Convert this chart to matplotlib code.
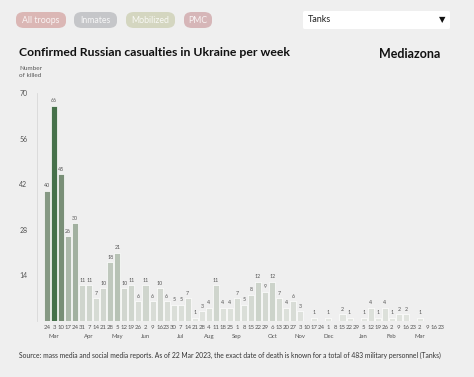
import matplotlib
matplotlib.use("Agg")
import matplotlib.pyplot as plt
import numpy as np
from matplotlib.patches import FancyBboxPatch
from matplotlib.colors import LinearSegmentedColormap

# === Data ===
days = [24, 3, 10, 17, 24, 31, 7, 14, 21, 28, 5, 12, 19, 26, 2, 9, 16, 23, 30,
        7, 14, 21, 28, 4, 11, 18, 25, 1, 8, 15, 22, 29, 6, 13, 20, 27, 3, 10,
        17, 24, 1, 8, 15, 22, 29, 5, 12, 19, 26, 2, 9, 16, 23, 2, 9, 16, 23]
killed = [40, 66, 45, 26, 30, 11, 11, 7, 10, 18, 21, 10, 11, 6, 11, 6, 10, 6, 5,
          5, 7, 1, 3, 4, 11, 4, 4, 7, 5, 8, 12, 9, 12, 7, 4, 6, 3, 0,
          1, 0, 1, 0, 2, 1, 0, 1, 4, 1, 4, 1, 2, 2, 0, 1, 0, 0, 0]
# month name placed under the bar index where the month starts
month_pos = [1, 6, 10, 14, 19, 23, 27, 32, 36, 40, 45, 49, 53]
month_names = ["Mar", "Apr", "May", "Jun", "Jul", "Aug", "Sep", "Oct", "Nov",
               "Dec", "Jan", "Feb", "Mar"]
yticks = [14, 28, 42, 56, 70]

W, H = 474, 377
BG = "#efefef"
plt.rcParams['font.family'] = ['Lato', 'DejaVu Sans']

fig = plt.figure(figsize=(W / 100, H / 100), dpi=100, facecolor=BG)


def fx(px):
    return px / W


def fy(py):
    return 1 - py / H


# --- filter buttons ---
buttons = [("All troops", 16, 66, "#dbb7b5"), ("Inmates", 74, 117, "#c5c6c9"),
           ("Mobilized", 126, 175, "#d4d6c0"), ("PMC", 184, 212, "#d6b6b8")]
for label, x0, x1, col in buttons:
    fig.patches.append(FancyBboxPatch((fx(x0), fy(28)), fx(x1 - x0), 16 / H,
                                      boxstyle="round,pad=0,rounding_size=0.017",
                                      transform=fig.transFigure, facecolor=col,
                                      edgecolor="none"))
    fig.text(fx((x0 + x1) / 2), fy(20.5), label, ha="center", va="center",
             fontsize=6.3, color="white", alpha=0.85)

# dropdown
fig.patches.append(FancyBboxPatch((fx(303), fy(29)), fx(147), 18 / H,
                                  boxstyle="round,pad=0,rounding_size=0.004",
                                  transform=fig.transFigure, facecolor="white",
                                  edgecolor="none"))
fig.text(fx(308), fy(20), "Tanks", ha="left", va="center", fontsize=6.5, color="#222")
fig.text(fx(442), fy(20), "\u25bc", ha="center", va="center", fontsize=6, color="#111",
         family="DejaVu Sans")

# titles
fig.text(fx(19), fy(52), "Confirmed Russian casualties in Ukraine per week",
         ha="left", va="center", fontsize=8.8, fontweight="bold", color="#111")
fig.text(fx(440), fy(54), "Mediazona", ha="right", va="center", fontsize=9,
         fontweight="bold", color="#111")
fig.text(fx(19), fy(72), "Number\nof killed", ha="left", va="center", fontsize=4.6,
         color="#555", linespacing=1.6)

# --- chart ---
ax = fig.add_axes([fx(37), fy(321), fx(452 - 37), (321 - 93) / H])
ax.set_facecolor(BG)
x = np.arange(len(killed))
vals = np.array(killed)

shade = LinearSegmentedColormap.from_list(
    "shade", [(0.0, "#e3e6e1"), (0.17, "#ced4cc"), (0.45, "#a3b2a1"),
              (0.65, "#7e927c"), (1.0, "#46714a")])
colors = [shade(v / vals.max()) for v in vals]

ax.bar(x, vals, width=0.86, color=colors, edgecolor="white", linewidth=0.5)
for xi, v in zip(x, vals):
    if v > 0:
        ax.text(xi, v + 0.8, str(v), ha="center", va="bottom", fontsize=3.8, color="#555")

ax.set_xlim(-1.42, 57.56)
ax.set_ylim(0, 70)
ax.set_yticks(yticks)
ax.set_yticklabels([str(v) for v in yticks], fontsize=5, color="#555")
ax.set_xticks(x)
ax.set_xticklabels([str(d) for d in days], fontsize=4.3, color="#555")
ax.tick_params(axis="both", length=0, pad=3)
ax.tick_params(axis="y", pad=7)
for s in ["top", "right", "bottom"]:
    ax.spines[s].set_visible(False)
ax.spines["left"].set_color("#d8d8d8")
ax.spines["left"].set_linewidth(0.6)

for p, m in zip(month_pos, month_names):
    ax.text(p, -0.07, m, transform=ax.get_xaxis_transform(), ha="center", va="center",
            fontsize=4.3, color="#555")

fig.text(fx(19), fy(355),
         "Source: mass media and social media reports. As of 22 Mar 2023, the exact date of death "
         "is known for a total of 483 military personnel (Tanks)",
         ha="left", va="center", fontsize=4.9, color="#333")

fig.savefig("out.png", dpi=100, facecolor=BG)
